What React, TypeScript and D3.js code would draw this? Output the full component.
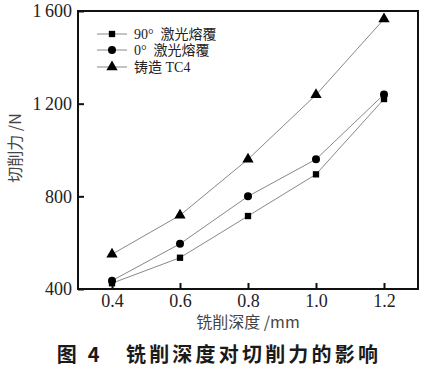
import * as d3 from "d3";
import React, { useRef, useEffect } from "react";

const depths = [0.4, 0.6, 0.8, 1.0, 1.2];
const laser90 = [425, 535, 715, 895, 1220];
const laser0 = [436, 595, 800, 960, 1240];
const castTC4 = [550, 718, 960, 1238, 1565];
const seriesNames = ["90°\u00a0\u00a0激光熔覆", "0°\u00a0\u00a0激光熔覆", "铸造 TC4"];
const xTicks = [0.4, 0.6, 0.8, 1.0, 1.2];
const yTicks = [400, 800, 1200, 1600];

const W = 425;
const H = 371;
const serif = "'Liberation Serif', 'Times New Roman', 'Noto Sans CJK SC', serif";
const cjk = "'Noto Sans CJK SC', sans-serif";

export default function App() {
  const ref = useRef(null);

  useEffect(() => {
    draw();
  }, []);

  const draw = () => {
    const svg = d3.select(ref.current);
    svg.selectAll("*").remove();

    const x = d3.scaleLinear().domain([0.3, 1.3]).range([78, 418]);
    const y = d3.scaleLinear().domain([400, 1600]).range([289, 11]);

    svg.append("rect").attr("width", W).attr("height", H).attr("fill", "#fff");

    // frame
    svg
      .append("rect")
      .attr("x", 78)
      .attr("y", 11)
      .attr("width", 340)
      .attr("height", 278)
      .attr("fill", "none")
      .attr("stroke", "#111")
      .attr("stroke-width", 2);

    // y axis ticks (inward)
    const yAxis = d3
      .axisLeft(y)
      .tickValues(yTicks)
      .tickSize(-6)
      .tickPadding(6)
      .tickFormat(d => d3.format(",")(d).replace(",", "\u2009"));
    const gy = svg.append("g").attr("transform", "translate(78,0)").call(yAxis);
    gy.select(".domain").remove();
    gy.selectAll("line").attr("stroke", "#111").attr("stroke-width", 2);
    gy.selectAll("text")
      .attr("font-family", serif)
      .attr("font-size", 18)
      .attr("fill", "#222");

    // x axis ticks (inward)
    const xAxis = d3
      .axisBottom(x)
      .tickValues(xTicks)
      .tickSize(-6)
      .tickPadding(5)
      .tickFormat(d3.format(".1f"));
    const gx = svg.append("g").attr("transform", "translate(0,289)").call(xAxis);
    gx.select(".domain").remove();
    gx.selectAll("line").attr("stroke", "#111").attr("stroke-width", 2);
    gx.selectAll("text")
      .attr("font-family", serif)
      .attr("font-size", 18)
      .attr("fill", "#222");

    const series = [laser90, laser0, castTC4];
    const line = d3
      .line()
      .x((d, i) => x(depths[i]))
      .y(d => y(d));

    const sym = [d3.symbolSquare, d3.symbolCircle, d3.symbolTriangle];
    const sizes = [40, 50, 55];

    series.forEach((vals, k) => {
      svg
        .append("path")
        .datum(vals)
        .attr("d", line)
        .attr("fill", "none")
        .attr("stroke", "#888")
        .attr("stroke-width", 1);
      svg
        .selectAll(".m" + k)
        .data(vals)
        .enter()
        .append("path")
        .attr("class", "m" + k)
        .attr("d", d3.symbol().type(sym[k]).size(sizes[k]))
        .attr("transform", (d, i) => "translate(" + x(depths[i]) + "," + y(d) + ")")
        .attr("fill", "#000");
    });

    // legend
    const ly = [34, 50, 67];
    seriesNames.forEach((name, k) => {
      const g = svg.append("g").attr("transform", "translate(0," + ly[k] + ")");
      g.append("line")
        .attr("x1", 97)
        .attr("x2", 127)
        .attr("stroke", "#888")
        .attr("stroke-width", 1);
      g.append("path")
        .attr("d", d3.symbol().type(sym[k]).size(sizes[k]))
        .attr("transform", "translate(112,0)")
        .attr("fill", "#000");
      g.append("text")
        .attr("x", 134)
        .attr("dy", "0.35em")
        .attr("font-family", serif)
        .attr("font-size", 14)
        .attr("fill", "#222")
        .text(name);
    });

    // axis titles
    svg
      .append("text")
      .attr("transform", "translate(21,148) rotate(-90)")
      .attr("text-anchor", "middle")
      .attr("font-family", cjk)
      .attr("font-size", 16)
      .attr("fill", "#444")
      .text("切削力 /N");

    svg
      .append("text")
      .attr("x", 248)
      .attr("y", 328)
      .attr("text-anchor", "middle")
      .attr("font-family", cjk)
      .attr("font-size", 16)
      .attr("fill", "#444")
      .text("铣削深度 /mm");

    // caption
    svg
      .append("text")
      .attr("x", 219)
      .attr("y", 362)
      .attr("text-anchor", "middle")
      .attr("font-family", cjk)
      .attr("font-weight", "bold")
      .attr("font-size", 20)
      .attr("letter-spacing", 3.2)
      .attr("fill", "#1a1a1a")
      .text("图 4\u3000铣削深度对切削力的影响");
  };

  return (
    <div style={{ position: "absolute", left: 0, top: 0 }}>
      <svg ref={ref} width={W} height={H}></svg>
    </div>
  );
}
